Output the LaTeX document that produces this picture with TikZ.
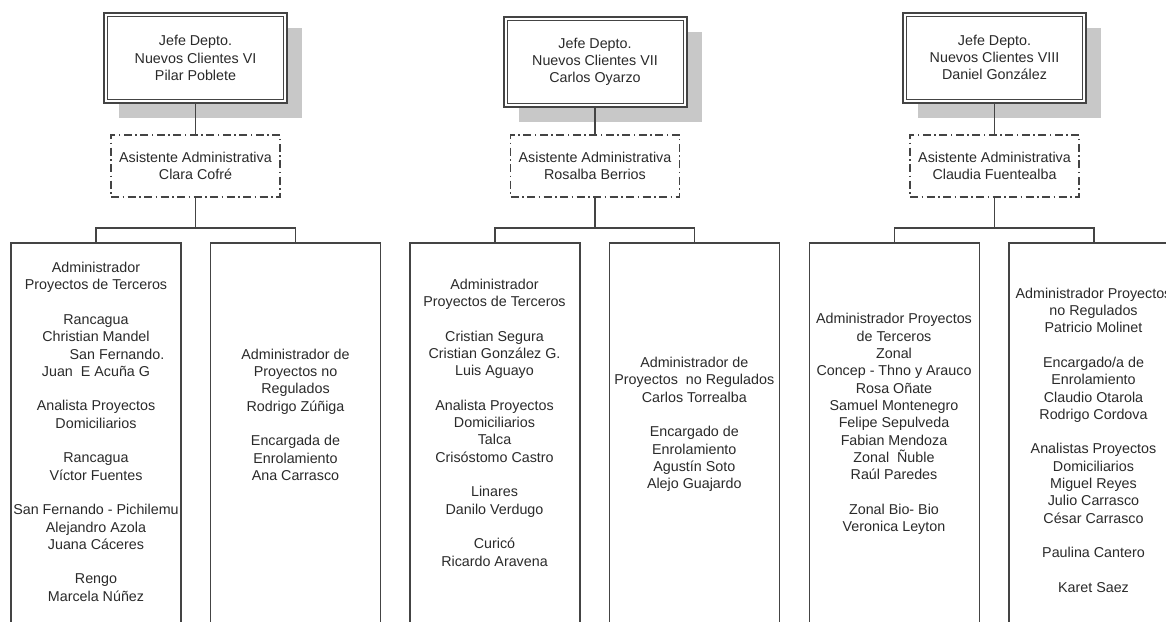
\documentclass[tikz,border=0pt]{standalone}
\usepackage{fontspec}
\setmainfont{Liberation Sans}
\usetikzlibrary{shadows,calc}
\definecolor{linegray}{HTML}{444444}
\definecolor{shadowgray}{HTML}{C8C8C8}
\definecolor{inkgray}{HTML}{2A2A2A}
\newcommand\orgfont{\fontsize{14.3}{17.3}\selectfont}
\newcommand\gapline{\\[17.3pt]}

\begin{document}
\begin{tikzpicture}[x=1pt,y=-1pt,
  every node/.style={inner sep=0pt, outer sep=0pt, text=inkgray, font=\orgfont},
  chief/.style={draw=linegray, line width=2pt, fill=white,
    minimum width=183pt, minimum height=90pt, align=center,
    drop shadow={shadow xshift=15pt, shadow yshift=-15pt, fill=shadowgray, opacity=1}},
  assistant/.style={draw=linegray, line width=1.4pt,
    dash pattern=on 8pt off 3.5pt on 1.5pt off 3.5pt,
    minimum width=169pt, minimum height=62pt, align=center},
  unit/.style={draw=linegray, line width=1.6pt, minimum width=170pt,
    minimum height=420pt, anchor=north},
  staff/.style={anchor=north, align=center, execute at begin node=\strut},
  link/.style={draw=linegray, line width=1.6pt},
  inner frame/.style={draw=linegray, line width=1pt}
]
\useasboundingbox (0,0) rectangle (1166,621);
\fill[white] (0,0) rectangle (1166,621);
\clip (0,0) rectangle (1166,621);

% department heads
\node[chief] (j1) at (195.5,58) {Jefe Depto.\\Nuevos Clientes VI\\Pilar Poblete};
\node[chief] (j2) at (595,61.7) {Jefe Depto.\\Nuevos Clientes VII\\Carlos Oyarzo};
\node[chief] (j3) at (994.5,57.5) {Jefe Depto.\\Nuevos Clientes VIII\\Daniel González};
\foreach \j in {j1,j2,j3}
  \draw[inner frame] ($(\j.south west)+(3.5,-3.5)$) rectangle ($(\j.north east)+(-3.5,3.5)$);

% assistants
\node[assistant] (a1) at (195.5,166) {Asistente Administrativa\\Clara Cofré};
\node[assistant] (a2) at (595,166) {Asistente Administrativa\\Rosalba Berrios};
\node[assistant] (a3) at (994.5,166) {Asistente Administrativa\\Claudia Fuentealba};

% units
\node[unit] (l1) at (96,243) {};
\node[unit] (r1) at (295.5,243) {};
\node[unit] (l2) at (495,243) {};
\node[unit] (r2) at (694.5,243) {};
\node[unit] (l3) at (894.5,243) {};
\node[unit] (r3) at (1094,243) {};

% connectors
\coordinate (t1) at (195.5,228);
\coordinate (t2) at (595,228);
\coordinate (t3) at (994.5,228);
\foreach \k in {1,2,3}{
  \draw[link] (j\k) -- (a\k);
  \draw[link] (a\k.south) -- (t\k);
  \draw[link] (l\k.north) -- (l\k.north |- t\k) -- (r\k.north |- t\k) -- (r\k.north);
}

% staff lists
\node[staff] (s1l) at (96,262.2) {Administrador\\Proyectos de Terceros\gapline
  Rancagua\\Christian Mandel\\\hspace*{42pt}San Fernando.\\Juan\ \ E Acuña G\gapline
  Analista Proyectos\\Domiciliarios\gapline
  Rancagua\\Víctor Fuentes\gapline
  San Fernando - Pichilemu\\Alejandro Azola\\Juana Cáceres\gapline
  Rengo\\Marcela Núñez};
\node[staff] (s1r) at (295.5,348.9) {Administrador de\\Proyectos no\\Regulados\\Rodrigo Zúñiga\gapline
  Encargada de\\Enrolamiento\\Ana Carrasco};
\node[staff] (s2l) at (494.5,278.9) {Administrador\\Proyectos de Terceros\gapline
  Cristian Segura\\Cristian González G.\\Luis Aguayo\gapline
  Analista Proyectos\\Domiciliarios\\Talca\\Crisóstomo Castro\gapline
  Linares\\Danilo Verdugo\gapline
  Curicó\\Ricardo Aravena};
\node[staff] (s2r) at (694.3,357.2) {Administrador de\\Proyectos\ \ no Regulados\\Carlos Torrealba\gapline
  Encargado de\\Enrolamiento\\Agustín Soto\\Alejo Guajardo};
\node[staff] (s3l) at (894,313.6) {Administrador Proyectos\\de Terceros\\Zonal\\Concep - Thno y Arauco\\
  Rosa Oñate\\Samuel Montenegro\\Felipe Sepulveda\\Fabian Mendoza\\Zonal\ \ Ñuble\\Raúl Paredes\gapline
  Zonal Bio- Bio\\Veronica Leyton};
\node[staff] (s3r) at (1093.5,287.9) {Administrador Proyectos\\no Regulados\\Patricio Molinet\gapline
  Encargado/a de\\Enrolamiento\\Claudio Otarola\\Rodrigo Cordova\gapline
  Analistas Proyectos\\Domiciliarios\\Miguel Reyes\\Julio Carrasco\\César Carrasco\gapline
  Paulina Cantero\gapline
  Karet Saez};
\end{tikzpicture}
\end{document}
